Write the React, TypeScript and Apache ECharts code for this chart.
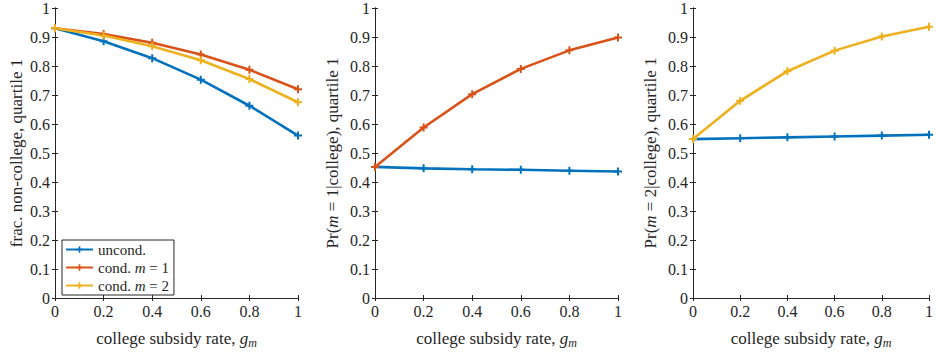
import React, { useEffect, useRef } from "react";
import * as echarts from "echarts";

const gm = [0, 0.2, 0.4, 0.6, 0.8, 1];
const p1Uncond = [0.93, 0.885, 0.827, 0.753, 0.663, 0.56];
const p1Cond1 = [0.93, 0.91, 0.88, 0.84, 0.787, 0.72];
const p1Cond2 = [0.93, 0.905, 0.868, 0.82, 0.755, 0.675];
const p2Uncond = [0.452, 0.447, 0.444, 0.442, 0.439, 0.436];
const p2Cond1 = [0.452, 0.588, 0.703, 0.79, 0.854, 0.898];
const p3Uncond = [0.548, 0.551, 0.554, 0.557, 0.56, 0.563];
const p3Cond2 = [0.548, 0.68, 0.782, 0.853, 0.902, 0.935];

const BLUE = "#0072BD";
const ORANGE = "#D95319";
const YELLOW = "#EDB120";
const INK = "#262626";
const FONT = "Liberation Serif";
const PLUS = "path://M3,0H5V3H8V5H5V8H3V5H0V3H3Z";

const zip = (ys: number[]) => gm.map((x, i) => [x, ys[i]]);

export default function App() {
  const ref = useRef<HTMLDivElement>(null);
  useEffect(() => {
    const chart = echarts.init(ref.current!, null, { renderer: "svg" });
    const lefts = [55, 375, 693];
    const grids = lefts.map((l) => ({ left: l, top: 8, width: 243, height: 293 }));
    const rich = {
      i: { fontStyle: "italic", fontFamily: FONT, fontSize: 17, color: INK },
      sub: { fontStyle: "italic", fontFamily: FONT, fontSize: 12, color: INK, padding: [9, 0, 0, 0] },
    };
    const yNames = [
      "frac. non-college, quartile 1",
      "Pr({i|m} = 1|college), quartile 1",
      "Pr({i|m} = 2|college), quartile 1",
    ];
    const yGaps = [30, 34, 34];
    const xAxes: any[] = [];
    const yAxes: any[] = [];
    lefts.forEach((_, g) => {
      const common = {
        type: "value",
        min: 0,
        max: 1,
        gridIndex: g,
        axisLine: { show: true, lineStyle: { color: INK, width: 1 } },
        axisTick: { show: true, inside: true, length: 3, lineStyle: { color: INK } },
        splitLine: { show: false },
      };
      xAxes.push({
        ...common,
        position: "bottom",
        interval: 0.2,
        axisLabel: { color: INK, fontFamily: FONT, fontSize: 16, margin: 5 },
        name: "college subsidy rate, {i|g}{sub|m}",
        nameLocation: "middle",
        nameGap: 30,
        nameTextStyle: { color: INK, fontFamily: FONT, fontSize: 17, rich },
      });
      xAxes.push({ ...common, position: "top", interval: 0.2, axisLabel: { show: false } });
      yAxes.push({
        ...common,
        position: "left",
        interval: 0.1,
        axisLabel: { color: INK, fontFamily: FONT, fontSize: 16, margin: 5 },
        name: yNames[g],
        nameLocation: "middle",
        nameGap: yGaps[g],
        nameTextStyle: { color: INK, fontFamily: FONT, fontSize: 17, rich },
      });
      yAxes.push({ ...common, position: "right", interval: 0.1, axisLabel: { show: false } });
    });
    const mk = (name: string, color: string, data: number[], g: number) => ({
      type: "line",
      name,
      xAxisIndex: g * 2,
      yAxisIndex: g * 2,
      data: zip(data),
      symbol: PLUS,
      symbolSize: 8,
      showAllSymbol: true,
      lineStyle: { color, width: 2.6 },
      itemStyle: { color },
      emphasis: { disabled: true },
    });
    chart.setOption({
      animation: false,
      grid: grids,
      xAxis: xAxes,
      yAxis: yAxes,
      legend: {
        data: ["uncond.", "cond. m = 1", "cond. m = 2"],
        orient: "vertical",
        left: 62,
        top: 240,
        itemWidth: 27,
        itemHeight: 8,
        itemGap: 3,
        padding: [2, 5, 2, 3],
        backgroundColor: "#fff",
        borderColor: INK,
        borderWidth: 1,
        textStyle: {
          color: INK,
          fontFamily: FONT,
          fontSize: 15,
          rich: { i: { fontStyle: "italic", fontFamily: FONT, fontSize: 15, color: INK } },
        },
        formatter: (n: string) => n.replace(" m ", " {i|m} "),
      },
      series: [
        mk("uncond.", BLUE, p1Uncond, 0),
        mk("cond. m = 1", ORANGE, p1Cond1, 0),
        mk("cond. m = 2", YELLOW, p1Cond2, 0),
        mk("uncond.", BLUE, p2Uncond, 1),
        mk("cond. m = 1", ORANGE, p2Cond1, 1),
        mk("uncond.", BLUE, p3Uncond, 2),
        mk("cond. m = 2", YELLOW, p3Cond2, 2),
      ],
    });
    return () => chart.dispose();
  }, []);
  return (
    <div
      ref={ref}
      style={{ position: "fixed", left: 0, top: 0, width: 936, height: 354, background: "#fff" }}
    />
  );
}
